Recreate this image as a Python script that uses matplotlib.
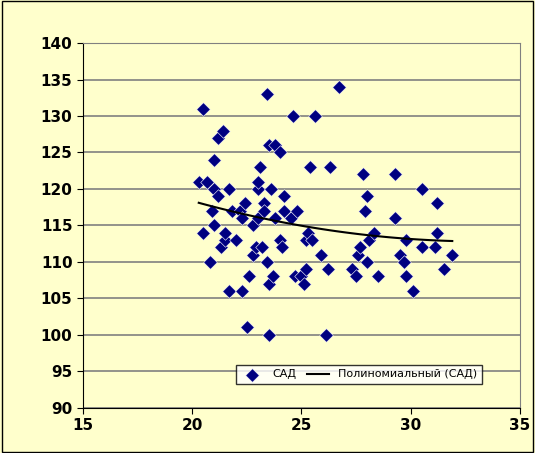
import numpy as np
import matplotlib
matplotlib.use("Agg")
import matplotlib.pyplot as plt

x = [20.5,20.3,20.7,20.5,20.8,21.0,20.9,21.0,21.2,21.4,21.0,21.2,21.3,21.5,21.5,21.7,21.8,21.7,22.0,22.2,22.3,22.4,22.3,22.5,22.6,22.8,22.9,22.8,23.0,23.0,23.1,23.0,23.2,23.3,23.4,23.3,23.5,23.4,23.5,23.5,23.6,23.7,23.8,23.8,24.0,24.0,24.1,24.2,24.2,24.5,24.6,24.8,24.7,25.0,25.1,25.2,25.2,25.3,25.4,25.5,25.6,25.9,26.1,26.2,26.3,26.7,27.3,27.5,27.6,27.7,27.8,27.9,28.0,28.0,28.1,28.3,28.5,29.3,29.3,29.5,29.7,29.8,29.8,30.1,30.5,30.5,31.1,31.2,31.2,31.5,31.9]
y = [131,121,121,114,110,124,117,115,127,128,120,119,112,113,114,120,117,106,113,117,116,118,106,101,108,111,112,115,120,121,123,116,112,118,133,117,126,110,107,100,120,108,126,116,125,113,112,117,119,116,130,117,108,108,107,109,113,114,123,113,130,111,100,109,123,134,109,108,111,112,122,117,119,110,113,114,108,122,116,111,110,113,108,106,120,112,112,118,114,109,111]

fig = plt.figure(figsize=(5.35,4.53), dpi=100, facecolor='#FFFFCC')
ax = fig.add_axes([0.155, 0.10, 0.817, 0.805])
ax.set_facecolor('#FFFFCC')
ax.scatter(x, y, marker='D', s=48, color='#000080', edgecolors='white', linewidths=0.4, label='САД', zorder=3)
c = np.polyfit(x, y, 2)
xs = np.linspace(min(x), max(x), 100)
ax.plot(xs, np.polyval(c, xs), color='black', lw=1.5, label='Полиномиальный (САД)', zorder=4)
ax.set_xlim(15, 35); ax.set_ylim(90, 140)
ax.set_xticks(range(15, 36, 5)); ax.set_yticks(range(90, 141, 5))
ax.grid(axis='y', color='#808080', lw=1.2)
ax.tick_params(labelsize=11, direction='out', length=4)
for t in ax.get_xticklabels()+ax.get_yticklabels(): t.set_fontweight('bold')
for s in ax.spines.values(): s.set_color('#808080')
ax.spines['left'].set_color('black'); ax.spines['bottom'].set_color('black')
leg = ax.legend(loc='lower right', bbox_to_anchor=(0.925, 0.05), ncol=2, fontsize=8, frameon=True,
                fancybox=False, edgecolor='black', facecolor='white', handlelength=2, columnspacing=1)
fig.add_artist(plt.Rectangle((0.003,0.003),0.994,0.994, transform=fig.transFigure, fill=False, edgecolor='black', lw=1))
fig.savefig('out.png', dpi=100, facecolor=fig.get_facecolor())
